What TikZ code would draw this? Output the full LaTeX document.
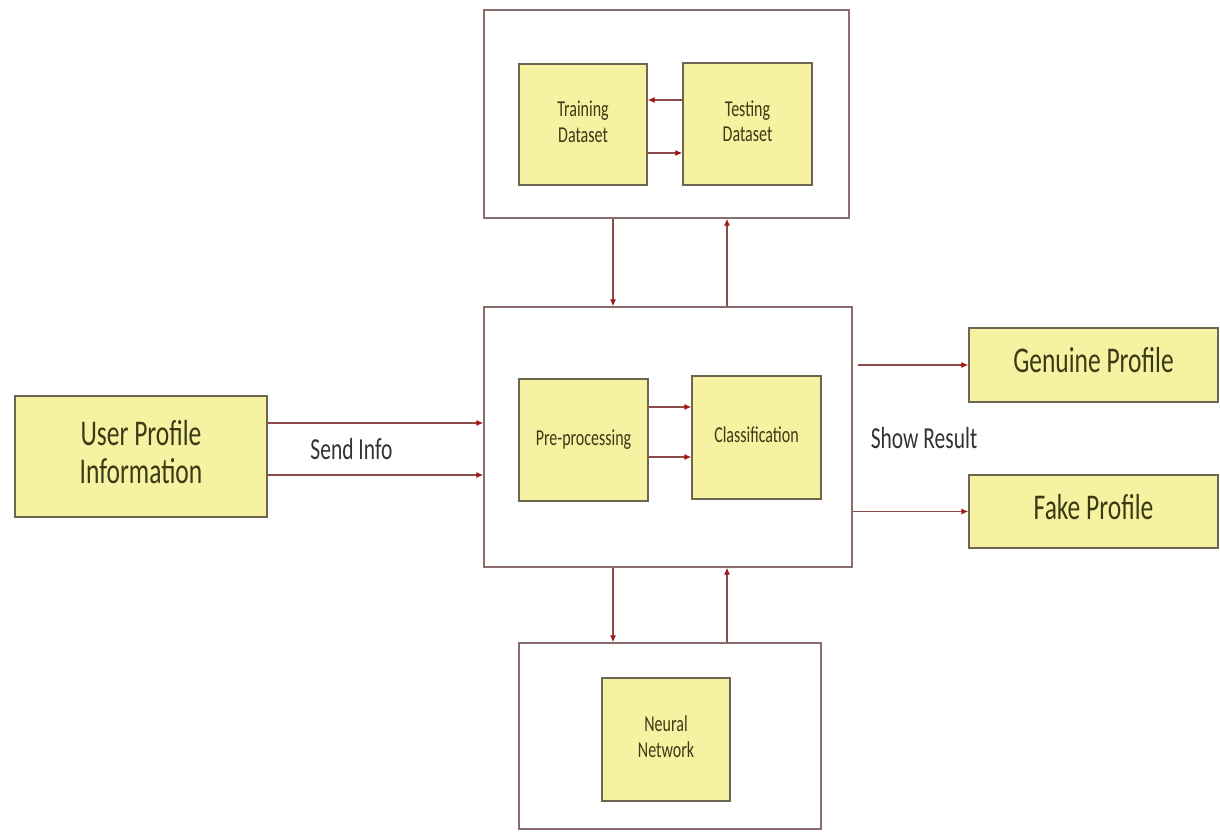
\documentclass[tikz,border=0pt]{standalone}
\usepackage{fontspec}
\setmainfont{Carlito}
\usetikzlibrary{arrows.meta}
\definecolor{boxfill}{HTML}{F6F2A2}
\definecolor{boxline}{HTML}{6E6650}
\definecolor{outerline}{HTML}{8A6E6E}
\definecolor{arrline}{HTML}{8C4A4A}
\definecolor{arrtip}{HTML}{A01818}
\definecolor{boxtext}{HTML}{3A3A14}
\definecolor{labtext}{HTML}{333333}
\newcommand{\vstr}[1]{\scalebox{1}[1.42]{\begin{tabular}{@{}c@{}}#1\end{tabular}}}
\tikzset{
  outerbox/.style={draw=outerline, line width=1.3pt, fill=white, inner sep=0pt},
  ybox/.style={draw=boxline, line width=1.3pt, fill=boxfill, inner sep=0pt, text=boxtext, align=center},
  small/.style={font=\fontsize{16}{18}\selectfont},
  big/.style={font=\fontsize{25.5}{27}\selectfont},
  lab/.style={text=labtext, font=\fontsize{21.5}{23}\selectfont},
  arr/.style={draw=arrline, line width=1.2pt, -{Latex[color=arrtip,length=7pt,width=6pt]}}
}
\begin{document}
\begin{tikzpicture}[x=1pt,y=-1pt]
\useasboundingbox (0,0) rectangle (1220,832);
% outer boxes
\node[outerbox, minimum width=365, minimum height=208] (top) at (666.5,114) {};
\node[outerbox, minimum width=368, minimum height=260] (mid) at (668,437) {};
\node[outerbox, minimum width=302, minimum height=186] (bot) at (670,736) {};
% inner boxes
\node[ybox, small, minimum width=128, minimum height=121] (train) at (583,124.5) {\vstr{Training\\Dataset}};
\node[ybox, small, minimum width=129, minimum height=122] (test) at (747.5,124) {\vstr{Testing\\Dataset}};
\node[ybox, small, minimum width=129, minimum height=122] (pre) at (583.5,440) {\vstr{Pre-processing}};
\node[ybox, small, minimum width=129, minimum height=123] (cls) at (756.5,437.5) {\vstr{Classification}};
\node[ybox, small, minimum width=128, minimum height=123] (nn) at (666,739.5) {\vstr{Neural\\Network}};
\node[ybox, big, minimum width=252, minimum height=121] (user) at (141,456.5) {\vstr{User Profile\\Information}};
\node[ybox, big, minimum width=249, minimum height=74] (gen) at (1093.5,365) {\vstr{Genuine Profile}};
\node[ybox, big, minimum width=249, minimum height=73] (fake) at (1093.5,511.5) {\vstr{Fake Profile}};
% labels
\node[lab] (send) at (351.5,453) {\vstr{Send Info}};
\node[lab] (show) at (924,442) {\vstr{Show Result}};
% arrows inside top box
\coordinate (t1) at ([yshift=24pt]test.west);
\draw[arr] (t1) -- (train.east |- t1);
\coordinate (t2) at ([yshift=-28.5pt]train.east);
\draw[arr] (t2) -- (test.west |- t2);
% top <-> mid
\coordinate (d1) at ([xshift=-53.5pt]top.south);
\draw[arr] (d1) -- (mid.north -| d1);
\coordinate (u1) at ([xshift=59pt]mid.north);
\draw[arr] (u1) -- (top.south -| u1);
% mid <-> bottom
\coordinate (d2) at ([xshift=-55pt]mid.south);
\draw[arr] (d2) -- (bot.north -| d2);
\coordinate (u2) at ([xshift=57pt]bot.north);
\draw[arr] (u2) -- (mid.south -| u2);
% user -> mid
\coordinate (s1) at ([yshift=33.5pt]user.east);
\draw[arr] (s1) -- (mid.west |- s1);
\coordinate (s2) at ([yshift=-18.5pt]user.east);
\draw[arr] (s2) -- (mid.west |- s2);
% pre -> cls
\coordinate (p1) at ([yshift=33pt]pre.east);
\draw[arr] (p1) -- (cls.west |- p1);
\coordinate (p2) at ([yshift=-17pt]pre.east);
\draw[arr] (p2) -- (cls.west |- p2);
% results
\draw[arr, shorten <=5pt] (mid.east |- gen.west) -- (gen.west);
\draw[arr] (mid.east |- fake.west) -- (fake.west);
\end{tikzpicture}
\end{document}
